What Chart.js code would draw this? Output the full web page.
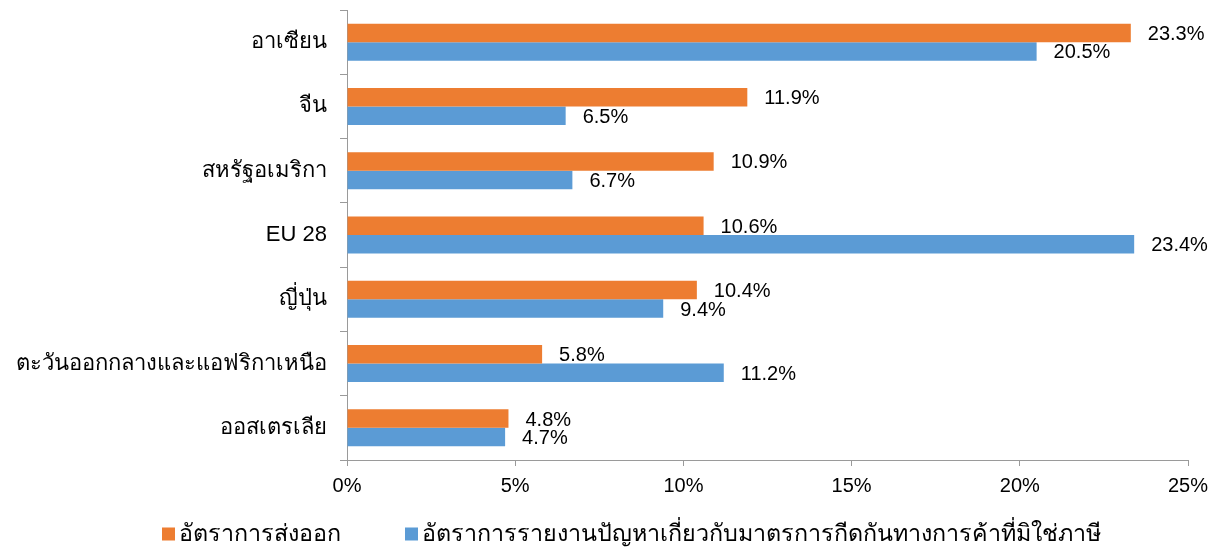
<!DOCTYPE html>
<html>
<head>
<meta charset="utf-8">
<script src="https://cdn.jsdelivr.net/npm/chart.js@4/dist/chart.umd.min.js"></script>
<style>
  html, body { margin: 0; padding: 0; background: #fff; }
  #wrap { width: 1224px; height: 550px; }
</style>
</head>
<body>
<div id="wrap"><canvas id="chart"></canvas></div>
<script>
// Categories and series values
const categories = ['อาเซียน', 'จีน', 'สหรัฐอเมริกา', 'EU 28', 'ญี่ปุ่น', 'ตะวันออกกลางและแอฟริกาเหนือ', 'ออสเตรเลีย'];
const exportRate = [23.3, 11.9, 10.9, 10.6, 10.4, 5.8, 4.8];
const ntmReportRate = [20.5, 6.5, 6.7, 23.4, 9.4, 11.2, 4.7];
const seriesNames = ['อัตราการส่งออก', 'อัตราการรายงานปัญหาเกี่ยวกับมาตรการกีดกันทางการค้าที่มิใช่ภาษี'];
const xTicks = [0, 5, 10, 15, 20, 25];

const FONT = "'Liberation Sans', Arial, 'Noto Sans', sans-serif";
const AXIS_COLOR = '#9a9a9a';

// Value labels at the end of each bar
const valueLabels = {
  id: 'valueLabels',
  afterDatasetsDraw(chart) {
    const ctx = chart.ctx;
    ctx.save();
    ctx.font = '20px ' + FONT;
    ctx.fillStyle = '#000';
    ctx.textBaseline = 'middle';
    ctx.textAlign = 'left';
    chart.data.datasets.forEach((ds, i) => {
      const meta = chart.getDatasetMeta(i);
      meta.data.forEach((el, j) => {
        ctx.fillText(ds.data[j].toFixed(1) + '%', el.x + 17, el.y + 1.5);
      });
    });
    ctx.restore();
  }
};

// Excel-like legend: small square right next to the text, wide gap between items
const bottomLegend = {
  id: 'bottomLegend',
  afterDraw(chart) {
    const ctx = chart.ctx;
    const box = 13;
    const y = chart.height - 15;
    let x = 162;
    ctx.save();
    ctx.font = '23.3px ' + FONT;
    ctx.textBaseline = 'middle';
    ctx.textAlign = 'left';
    chart.data.datasets.forEach(ds => {
      ctx.fillStyle = ds.backgroundColor;
      ctx.fillRect(x, y - box / 2 - 1, box, box);
      ctx.fillStyle = '#000';
      ctx.fillText(ds.label, x + box + 4, y);
      x += box + 4 + ctx.measureText(ds.label).width + 64;
    });
    ctx.restore();
  }
};

const ctx = document.getElementById('chart').getContext('2d');
new Chart(ctx, {
  type: 'bar',
  data: {
    labels: categories,
    datasets: [
      {
        label: seriesNames[0],
        data: exportRate,
        backgroundColor: '#ED7D31',
        categoryPercentage: 0.576,
        barPercentage: 1.0
      },
      {
        label: seriesNames[1],
        data: ntmReportRate,
        backgroundColor: '#5B9BD5',
        categoryPercentage: 0.576,
        barPercentage: 1.0
      }
    ]
  },
  options: {
    indexAxis: 'y',
    responsive: true,
    maintainAspectRatio: false,
    animation: false,
    layout: { padding: { top: 0, right: 36, left: 0, bottom: 44 } },
    plugins: {
      legend: { display: false },
      tooltip: { enabled: false }
    },
    scales: {
      x: {
        min: 0,
        max: 25,
        afterBuildTicks: scale => { scale.ticks = xTicks.map(v => ({ value: v })); },
        grid: { drawOnChartArea: false, color: AXIS_COLOR, tickLength: 6 },
        border: { color: AXIS_COLOR },
        ticks: {
          color: '#000',
          padding: 8,
          font: { family: FONT, size: 20 },
          callback: v => v + '%'
        }
      },
      y: {
        afterFit: scale => {
          scale.width = 347;
          scale.paddingTop = 10;
          scale.paddingBottom = 0;
        },
        grid: { drawOnChartArea: false, color: AXIS_COLOR, tickLength: 7, offset: true },
        border: { color: AXIS_COLOR },
        ticks: {
          color: '#000',
          padding: 13,
          font: { family: FONT, size: 22 }
        }
      }
    }
  },
  plugins: [valueLabels, bottomLegend]
});
</script>
</body>
</html>
